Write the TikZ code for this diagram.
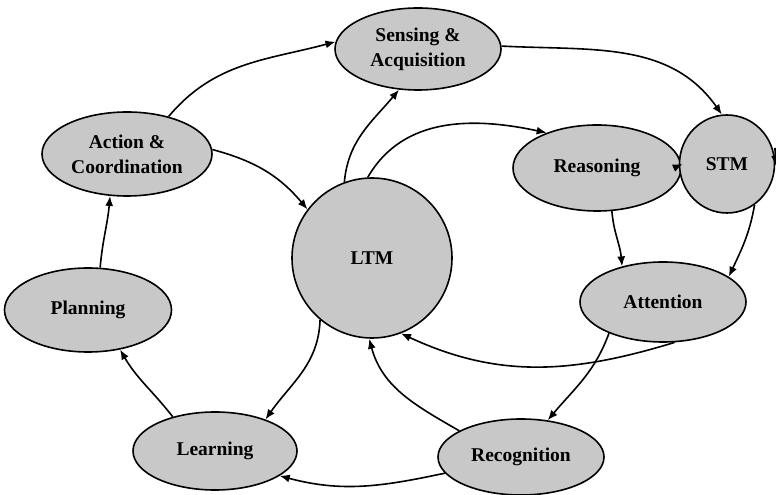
\documentclass[tikz,border=0pt]{standalone}
\usepackage{fontspec}
\setmainfont{Liberation Serif}
\usetikzlibrary{shapes.geometric,arrows.meta}
\definecolor{nodegray}{RGB}{200,200,200}
\tikzset{
  proc/.style={ellipse,draw=black,line width=1.6pt,fill=nodegray,inner sep=0pt,
    align=center,font=\fontsize{19.5}{25}\selectfont\bfseries},
  arr/.style={line width=1.6pt,-{Latex[length=10pt,width=8pt]}}
}
\begin{document}
\begin{tikzpicture}[x=1pt,y=1pt]
\useasboundingbox (0,0) rectangle (776,495);
\node[proc,minimum width=166pt,minimum height=82pt] (sen) at (418,446) {Sensing \&\\Acquisition};
\node[proc,minimum width=170pt,minimum height=84pt] (act) at (127,341) {Action \&\\Coordination};
\node[proc,minimum width=160pt,minimum height=160pt] (ltm) at (372,237) {LTM};
\node[proc,minimum width=168pt,minimum height=86pt] (rea) at (597,327) {Reasoning};
\node[proc,minimum width=95pt,minimum height=98pt] (stm) at (727,331) {STM};
\node[proc,minimum width=166pt,minimum height=80pt] (att) at (663,193) {Attention};
\node[proc,minimum width=166pt,minimum height=76pt] (rec) at (521,38) {Recognition};
\node[proc,minimum width=164pt,minimum height=78pt] (lea) at (215,44) {Learning};
\node[proc,minimum width=167pt,minimum height=84pt] (pla) at (88,185) {Planning};
\coordinate (stmx) at (775,347);

\draw[arr] (act.42) to[out=50,in=195] (sen.175);
\draw[arr] (act.3) to[out=-15,in=130] (ltm.143);
\draw[arr] (pla.74) to[out=85,in=265] (act.248);
\draw[arr] (lea.141) to[out=128,in=300] (pla.309);
\draw[arr] (ltm.230) to[out=-92,in=55] (lea.32);
\draw[arr] (rec.192) to[out=192,in=-15] (lea.339);
\draw[arr] (rec.157) to[out=150,in=-75] (ltm.268);
\draw[arr] (att.210) to[out=250,in=50] (rec.54);
\draw[arr] (att.286) to[out=197,in=-25] (ltm.291);
\draw[arr] (rea.289) to[out=-85,in=95] (att.139);
\draw[arr] (stm.304) to[out=-100,in=65] (att.21);
\draw[arr] ([xshift=-8pt]rea.east) -- ([xshift=4pt]stm.west);
\draw[arr] (sen.2) to[out=-3,in=125] (stm.96);
\draw[arr] (ltm.110) to[out=85,in=230] (sen.245);
\draw[arr] (ltm.93) to[out=60,in=168] (rea.145);
\draw[arr] (stmx) -- ([yshift=-2pt]stm.east);
\end{tikzpicture}
\end{document}
